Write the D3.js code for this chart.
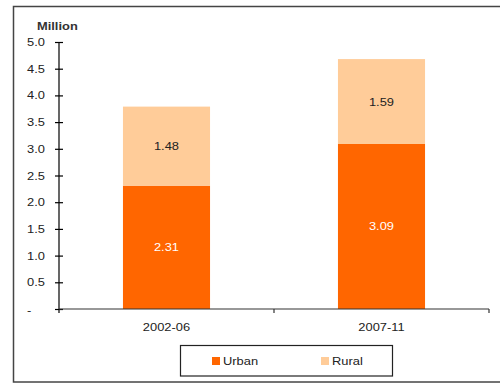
<!DOCTYPE html>
<html>
<head>
<meta charset="utf-8">
<script src="https://cdn.jsdelivr.net/npm/d3@7"></script>
<style>
  html, body { margin: 0; padding: 0; background: #fff; }
  svg { display: block; font-family: "Liberation Sans", Arial, sans-serif; }
</style>
</head>
<body>
<svg id="chart" width="500" height="383"></svg>
<script>
// Households (million) by period, split into urban and rural
const periods = ["2002-06", "2007-11"];
const urban = [2.31, 3.09];
const rural = [1.48, 1.59];
const yTicks = [0, 0.5, 1.0, 1.5, 2.0, 2.5, 3.0, 3.5, 4.0, 4.5, 5.0];
const seriesNames = ["Urban", "Rural"];
const seriesColors = ["#FF6600", "#FFCC99"];

const svg = d3.select("#chart");
const margin = { left: 59, right: 11, top: 42, bottom: 74 };
const W = 500, H = 383;

// outer frame (right edge runs past the page)
svg.append("rect")
  .attr("x", 13.5).attr("y", 6.5)
  .attr("width", 520).attr("height", 375.5)
  .attr("fill", "none").attr("stroke", "#444").attr("stroke-width", 1.5);

const x = d3.scaleBand()
  .domain(periods)
  .range([margin.left, W - margin.right])
  .paddingInner(0.595).paddingOuter(0.2975);

const y = d3.scaleLinear()
  .domain([0, 5])
  .range([H - margin.bottom, margin.top]);

const rows = periods.map((p, i) => ({ period: p, Urban: urban[i], Rural: rural[i] }));
const stacked = d3.stack().keys(seriesNames)(rows);

const layers = svg.append("g").selectAll("g")
  .data(stacked).join("g")
  .attr("fill", (d, i) => seriesColors[i]);

layers.selectAll("rect")
  .data(d => d).join("rect")
  .attr("x", d => x(d.data.period))
  .attr("width", x.bandwidth())
  .attr("y", d => y(d[1]))
  .attr("height", d => y(d[0]) - y(d[1]));

// value labels
layers.each(function (layer, li) {
  d3.select(this).selectAll("text")
    .data(layer).join("text")
    .attr("x", d => x(d.data.period) + x.bandwidth() / 2)
    .attr("y", d => (y(d[0]) + y(d[1])) / 2 + 4)
    .attr("text-anchor", "middle")
    .attr("font-size", 11)
    .attr("fill", li === 0 ? "#fff" : "#222")
    .text(d => d3.format(".2f")(d[1] - d[0]));
});

// y axis with ticks crossing the line
const yAxis = d3.axisLeft(y)
  .tickValues(yTicks)
  .tickSize(0)
  .tickPadding(14)
  .tickFormat(v => v === 0 ? "-" : d3.format(".1f")(v));
const yg = svg.append("g")
  .attr("transform", `translate(${margin.left},0)`)
  .call(yAxis);
yg.select(".domain").remove();
yg.append("line")
  .attr("x1", 0).attr("x2", 0)
  .attr("y1", y(5)).attr("y2", y(0) + 4)
  .attr("stroke", "#000").attr("stroke-width", 1.2);
yg.selectAll(".tick").append("line")
  .attr("x1", -4).attr("x2", 4)
  .attr("stroke", "#000").attr("stroke-width", 1.2);
yg.selectAll(".tick text")
  .attr("font-size", 11).attr("fill", "#222")
  .attr("font-family", "Liberation Sans, Arial, sans-serif");
// the zero label is a dash sitting at the left of the number column
yg.selectAll(".tick text").filter(d => d === 0)
  .attr("text-anchor", "start")
  .attr("x", -32)
  .attr("dy", "0.45em");

// x axis: category boundaries get downward ticks
const xg = svg.append("g").attr("transform", `translate(0,${y(0)})`);
xg.append("line")
  .attr("x1", margin.left).attr("x2", W - margin.right)
  .attr("stroke", "#333").attr("stroke-width", 1.2);
const step = (W - margin.right - margin.left) / periods.length;
d3.range(1, periods.length + 1).forEach(i => {
  xg.append("line")
    .attr("x1", margin.left + step * i).attr("x2", margin.left + step * i)
    .attr("y1", 0).attr("y2", 4)
    .attr("stroke", "#333").attr("stroke-width", 1.2);
});
xg.selectAll("text.cat")
  .data(periods).join("text")
  .attr("class", "cat")
  .attr("x", d => x(d) + x.bandwidth() / 2)
  .attr("y", 22)
  .attr("text-anchor", "middle")
  .attr("font-size", 11)
  .attr("fill", "#222")
  .text(d => d);

// unit label
svg.append("text")
  .attr("x", 37).attr("y", 30)
  .attr("font-size", 11).attr("font-weight", "bold")
  .attr("fill", "#333")
  .text("Million");

// legend
const lg = svg.append("g");
lg.append("rect")
  .attr("x", 180.5).attr("y", 345.5)
  .attr("width", 212).attr("height", 30.5)
  .attr("fill", "#fff").attr("stroke", "#222").attr("stroke-width", 1.2);
const legendX = [212, 321];
seriesNames.forEach((name, i) => {
  lg.append("rect")
    .attr("x", legendX[i]).attr("y", 357)
    .attr("width", 8).attr("height", 8)
    .attr("fill", seriesColors[i]);
  lg.append("text")
    .attr("x", legendX[i] + 11).attr("y", 365)
    .attr("font-size", 11).attr("fill", "#222")
    .text(name);
});

// all lettering is set slightly wide
svg.selectAll("text").each(function () {
  const len = this.getComputedTextLength();
  if (len > 0) {
    d3.select(this)
      .attr("textLength", len * 1.17)
      .attr("lengthAdjust", "spacingAndGlyphs");
  }
});
</script>
</body>
</html>
